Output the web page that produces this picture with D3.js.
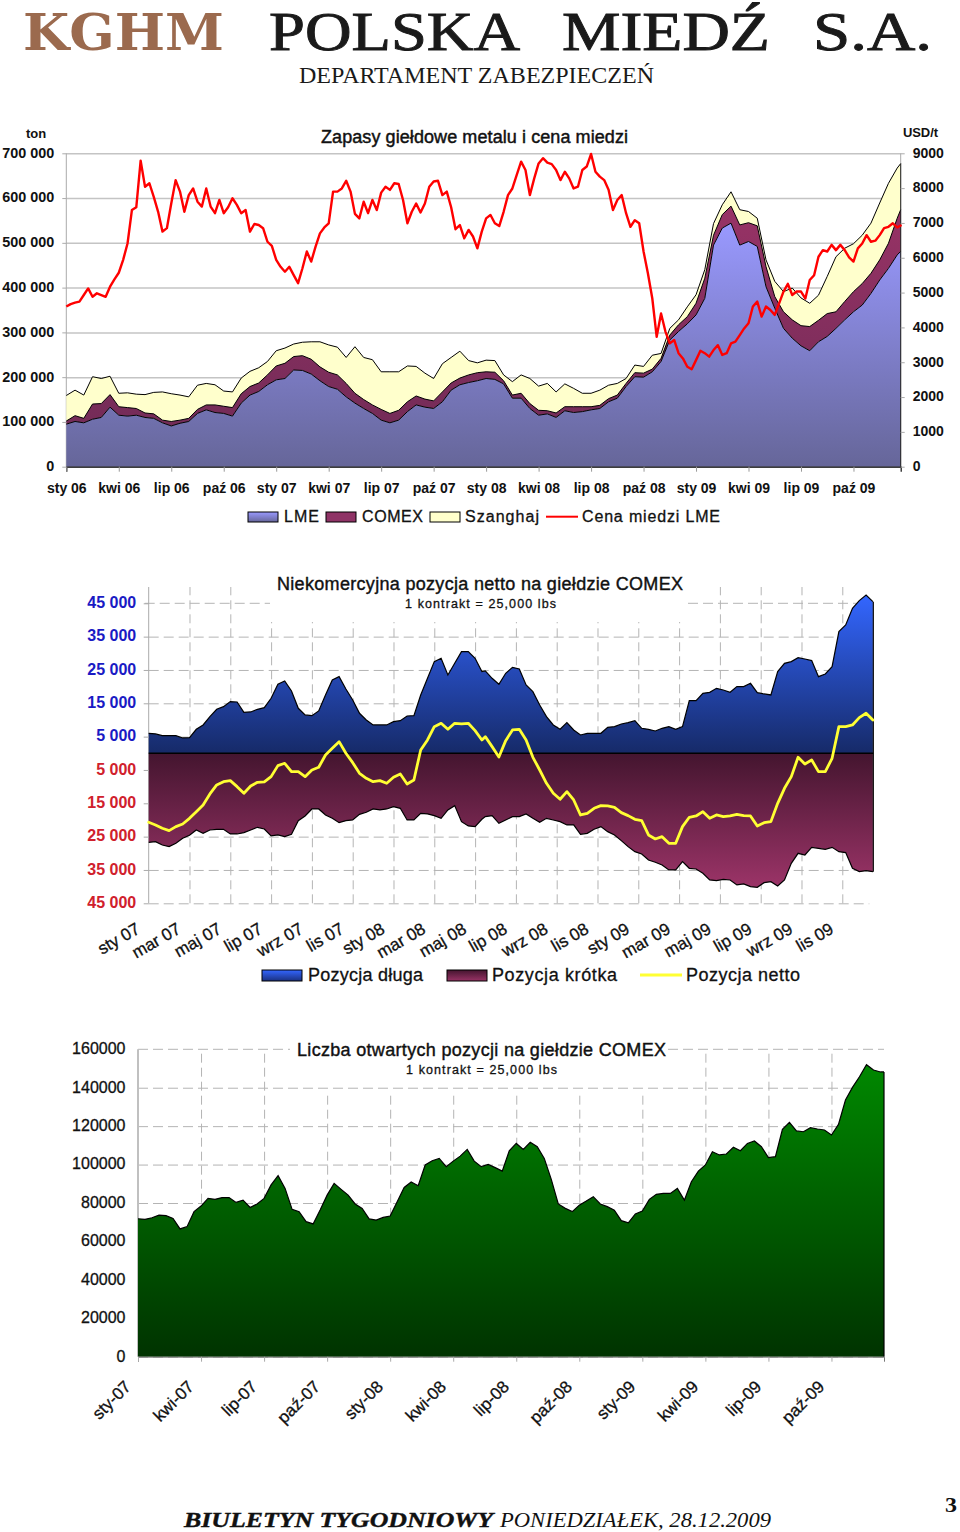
<!DOCTYPE html>
<html lang="pl"><head><meta charset="utf-8">
<script src="https://cdn.jsdelivr.net/npm/d3@7/dist/d3.min.js"></script>
<style>
html,body{margin:0;padding:0;background:#fff}
svg{display:block}
text{font-family:"Liberation Sans",Arial,sans-serif}
.serif{font-family:"Liberation Serif",serif}
.slab{font-family:"DejaVu Serif",serif}
</style></head><body><div id="c"></div>
<script>
// ---------- Chart 1: exchange stocks (thousand tons, half-month steps) and copper price (USD/t, quarter-month steps)
const stockLME=[95,101,98,106,110,133,115,113,115,110,108,98,91,97,101,119,127,121,119,113,142,160,168,183,194,197,216,215,207,192,179,173,156,142,130,119,104,98,104,123,138,133,130,145,171,183,188,192,197,195,185,153,153,130,115,118,110,125,121,123,127,130,145,153,179,201,200,212,235,283,302,319,339,376,495,533,544,495,503,492,402,354,309,287,270,259,279,291,309,328,346,361,387,417,443,473,481];
const stockCOMEX=[7,13,10,34,31,28,19,19,15,10,10,6,10,7,7,9,11,17,16,19,21,19,19,22,31,34,30,33,33,31,32,32,30,22,20,19,24,21,22,22,20,18,17,22,16,15,17,18,15,16,7,7,11,11,11,7,10,9,13,11,7,7,7,7,7,9,9,6,7,11,15,16,26,45,22,30,38,45,42,46,45,26,37,41,45,54,48,51,37,41,45,48,45,45,56,82,93];
const stockShanghai=[57,57,52,61,56,41,30,33,32,41,48,63,62,56,48,54,48,45,34,35,35,34,34,30,34,34,28,30,39,56,61,62,58,104,94,101,84,93,86,80,66,58,50,63,57,60,32,22,26,26,13,30,41,56,54,61,47,51,41,30,30,34,30,26,11,17,15,31,11,15,11,22,19,19,26,22,32,34,25,17,15,34,45,71,62,52,56,83,123,119,107,108,112,127,134,112,103];
const copperPrice=[4600,4670,4710,4740,4930,5120,4880,4980,4930,4880,5170,5380,5570,5940,6410,7370,7450,8790,8040,8140,7750,7320,6750,6850,7560,8230,7900,7320,7800,7990,7610,7470,7990,7470,7280,7660,7280,7450,7710,7520,7280,7370,6750,6970,6940,6850,6460,6340,5940,5740,5600,5740,5500,5270,5700,6180,5890,6320,6700,6870,6990,7900,7900,7990,8210,7900,7260,7130,7610,7280,7660,7370,7870,8040,7950,8140,8120,7660,6990,7320,7560,7300,7560,8040,8190,8210,7800,7900,7450,6820,6940,6560,6800,6610,6270,6750,7130,7230,6990,6910,7320,7800,7990,8380,8760,8520,7800,8280,8710,8860,8730,8690,8520,8230,8470,8280,7990,8040,8520,8620,8980,8470,8330,8230,7950,7370,7660,7800,7280,6890,7080,6990,6180,5550,4830,3730,4400,3880,3540,3640,3260,3110,2870,2800,3060,3330,3260,3160,3350,3490,3210,3260,3540,3590,3780,3970,4120,4600,4740,4310,4600,4500,4360,4690,5030,5250,4930,5030,5030,4830,5360,5500,6030,6220,6180,6370,6220,6370,6220,6010,5890,6270,6410,6650,6460,6490,6650,6850,6890,6990,6870,6940];
const stockTickValues=[0,100,200,300,400,500,600,700];
const stockTickLabels=["0","100 000","200 000","300 000","400 000","500 000","600 000","700 000"];
const priceTicks=[0,1000,2000,3000,4000,5000,6000,7000,8000,9000];
const stockMonthLabels=["sty 06","kwi 06","lip 06","paź 06","sty 07","kwi 07","lip 07","paź 07","sty 08","kwi 08","lip 08","paź 08","sty 09","kwi 09","lip 09","paź 09"];
const stockLegend=["LME","COMEX","Szanghaj","Cena miedzi LME"];

// ---------- Chart 2: non-commercial positions (contracts)
const positionLong=[6000,5800,5300,5300,5300,4600,4700,7200,8500,11000,13200,14000,15500,15400,12300,12400,13200,13700,16500,20700,21700,18700,13500,11500,11300,12700,17500,22000,23000,19300,16000,12000,10000,8500,8500,8500,9500,9800,11200,11300,17500,22500,27500,28500,23500,27000,30500,30500,28500,24500,
24700,22500,20700,24000,25800,25300,20500,18500,14500,11000,8500,7200,9200,7000,5500,6000,6000,6000,7800,8000,8800,9200,9800,7500,7200,6700,7500,8000,7200,8000,15800,15800,18000,18300,19500,19000,18300,20000,20000,21000,18200,17800,17500,24500,27000,27500,28700,28300,27800,23000,23800,26000,36500,38500,43500,45800,47500,45500];
const positionShort=[26700,26500,27500,28000,27000,25500,24600,23000,24000,23000,22800,22800,24200,24200,23800,23000,22200,22700,24800,24500,25000,24300,20200,18800,16700,16700,18500,19500,20800,20200,20000,18300,17700,16700,17000,16700,16000,16500,20000,20000,18000,18200,18700,19500,17000,15700,20500,21800,22000,19800,
19000,18700,21000,20000,19000,19000,18200,19500,20700,19500,20000,20500,21500,21500,24300,24000,22800,22000,23500,24500,26200,28000,29500,30200,32000,32700,33500,35000,35000,32500,34500,34700,36000,38000,38200,37800,38000,39500,39200,40000,40200,38800,38500,39800,38000,33000,30000,30500,28200,28500,28800,28200,29500,29800,34500,35500,35200,35500];
const positionNet=[-20700,-21500,-22500,-23200,-22000,-21200,-19500,-17500,-15500,-12200,-9500,-8500,-8200,-10000,-12000,-9800,-8700,-8600,-7000,-3700,-3000,-5500,-5500,-7000,-5000,-4200,-500,1500,3500,0,-2800,-6000,-7500,-8500,-8200,-9000,-7200,-6200,-9200,-8000,1000,4000,8000,9000,7200,9000,8800,9000,6800,4000,
5000,2000,-1100,3800,7000,7200,4000,-1200,-5000,-9000,-12000,-13800,-11500,-14000,-18500,-18000,-16500,-15700,-15800,-16200,-17800,-18700,-19800,-20200,-24500,-25700,-25000,-27000,-27000,-22000,-19200,-18800,-17500,-19500,-18500,-19000,-18800,-18300,-18700,-18800,-21800,-20800,-20500,-15000,-10500,-7000,-1200,-3200,-2000,-5500,-5500,-1500,8000,8000,8500,10700,12000,10000];
const positionTickValues=[45000,35000,25000,15000,5000,-5000,-15000,-25000,-35000,-45000];
const positionTickLabels=["45 000","35 000","25 000","15 000","5 000","5 000","15 000","25 000","35 000","45 000"];
const positionMonthLabels=["sty 07","mar 07","maj 07","lip 07","wrz 07","lis 07","sty 08","mar 08","maj 08","lip 08","wrz 08","lis 08","sty 09","mar 09","maj 09","lip 09","wrz 09","lis 09"];
const positionLegend=["Pozycja długa","Pozycja krótka","Pozycja netto"];

// ---------- Chart 3: open interest (contracts, third-of-month steps)
const openInterest=[71800,71500,72300,73700,73400,72000,66500,67700,75500,78400,82400,81900,82800,82800,80300,81500,77700,79500,82400,89400,94200,87600,76700,75500,70300,69100,76300,84100,90200,87100,84100,79500,77200,71700,71100,72500,73200,80700,88100,90900,89000,99800,102000,103200,98900,101800,104400,107900,101800,98900,100100,98400,96600,107200,111000,107900,111600,109300,103200,92300,79500,77200,75500,78900,81000,83300,79500,78100,76300,70800,69700,74300,75800,81900,84500,85000,85000,87600,81500,91100,96600,99800,106700,105000,105500,109000,107200,111000,112300,109300,103600,104100,118300,122000,117500,117100,119200,118500,118000,115400,120900,133600,140200,145700,152000,149200,148200,148200];
const openTicks=[0,20000,40000,60000,80000,100000,120000,140000,160000];
const openMonthLabels=["sty-07","kwi-07","lip-07","paź-07","sty-08","kwi-08","lip-08","paź-08","sty-09","kwi-09","lip-09","paź-09"];

const titles={
 stock:"Zapasy giełdowe metalu i cena miedzi",
 position:"Niekomercyjna pozycja netto na giełdzie COMEX",
 open:"Liczba otwartych pozycji na giełdzie COMEX",
 contract:"1 kontrakt = 25,000 lbs"
};

const svg=d3.select("#c").append("svg").attr("width",960).attr("height",1532).attr("viewBox","0 0 960 1532");
const defs=svg.append("defs");
function grad(id,y1,y2,c1,c2){
  const g=defs.append("linearGradient").attr("id",id).attr("gradientUnits","userSpaceOnUse").attr("x1",0).attr("x2",0).attr("y1",y1).attr("y2",y2);
  g.append("stop").attr("offset",0).attr("stop-color",c1);
  g.append("stop").attr("offset",1).attr("stop-color",c2);
  return `url(#${id})`;
}
function txt(x,y,s,o={}){
  const t=svg.append("text").attr("x",x).attr("y",y).text(s)
    .attr("font-size",o.size||14).attr("font-weight",o.weight||"normal").attr("text-anchor",o.anchor||"start").style("fill",o.fill||"#111");
  if(o.cls)t.attr("class",o.cls);
  if(o.style)t.attr("font-style",o.style);
  if(o.len)t.attr("textLength",o.len).attr("lengthAdjust",o.adjust||"spacing");
  if(o.stroke)t.style("stroke",o.fill||"#111").style("stroke-width",o.stroke);
  return t;
}
function swatch(x,y,w,h,fill){
  svg.append("rect").attr("x",x).attr("y",y).attr("width",w).attr("height",h).attr("fill",fill).attr("stroke","#000").attr("stroke-width",1);
}
function tickText(sel,size,fill,weight,stroke){
  sel.attr("font-size",size).attr("font-weight",weight).attr("font-family","Liberation Sans").style("fill",fill);
  if(stroke)sel.style("stroke",fill).style("stroke-width",stroke);
  return sel;
}

// ---------- page header
txt(23,50,"KGHM",{cls:"slab",size:50,weight:"bold",fill:"#9b6a4e",len:201,adjust:"spacingAndGlyphs"});
txt(269,50,"POLSKA",{cls:"serif",size:54,fill:"#1a1a1a",len:251,adjust:"spacingAndGlyphs",stroke:.9});
txt(562,50,"MIEDŹ",{cls:"serif",size:54,fill:"#1a1a1a",len:208,adjust:"spacingAndGlyphs",stroke:.9});
txt(813,50,"S.A.",{cls:"serif",size:54,fill:"#1a1a1a",len:119,adjust:"spacingAndGlyphs",stroke:.9});
txt(299,83,"DEPARTAMENT ZABEZPIECZEŃ",{cls:"serif",size:23,fill:"#1a1a1a",len:355,adjust:"spacingAndGlyphs"});

// ---------- Chart 1
(function(){
  const L=66.3,R=900.7,T=153.3,B=466.7;
  const x=d3.scaleLinear().domain([0,47.7]).range([L,R]);
  const y=d3.scaleLinear().domain([0,700]).range([B,T]);
  const yP=d3.scaleLinear().domain([0,9000]).range([B,T]);
  const rows=stockLME.map((v,i)=>({m:Math.min(i/2,47.7),LME:v,COMEX:stockCOMEX[i],Shanghai:stockShanghai[i]}));
  const series=d3.stack().keys(["LME","COMEX","Shanghai"])(rows);
  const g=svg.append("g");
  g.append("g").attr("transform",`translate(${L},0)`).call(d3.axisLeft(y).tickValues(stockTickValues).tickSize(-(R-L)).tickFormat(""))
    .call(s=>s.select(".domain").remove()).selectAll("line").attr("stroke","#c4c4c4").attr("stroke-width",1.5);
  g.append("line").attr("x1",L).attr("x2",L).attr("y1",T).attr("y2",B).attr("stroke","#aaa").attr("stroke-width",1);
  g.append("line").attr("x1",R).attr("x2",R).attr("y1",T).attr("y2",B).attr("stroke","#aaa").attr("stroke-width",1);
  const area=d3.area().x(d=>x(d.data.m)).y0(d=>y(d[0])).y1(d=>y(d[1]));
  const fills=[grad("gLME",y(544),B,"#9999ff","#666699"),grad("gCOMEX",y(600),B,"#993366","#6d2a55"),"#ffffcc"];
  series.slice().reverse().forEach(s=>{
    g.append("path").datum(s).attr("d",area).attr("fill",fills[s.index]);
    g.append("path").datum(s).attr("d",d3.line().x(d=>x(d.data.m)).y(d=>y(d[1]))).attr("fill","none").attr("stroke","#000").attr("stroke-width",1);
  });
  const last=rows[rows.length-1];
  g.append("line").attr("x1",R).attr("x2",R).attr("y1",y(last.LME+last.COMEX+last.Shanghai)).attr("y2",B).attr("stroke","#222").attr("stroke-width",1);
  g.append("path").datum(copperPrice).attr("d",d3.line().x((d,i)=>x(i/4)).y(d=>yP(d))).attr("fill","none").attr("stroke","#ff0000").attr("stroke-width",2.4).attr("stroke-linejoin","round");
  const bx=g.append("g").attr("transform",`translate(0,${B})`).call(d3.axisBottom(x).tickValues(d3.range(0,46,3)).tickSize(5).tickPadding(11).tickFormat((d,i)=>stockMonthLabels[i]));
  bx.select(".domain").attr("stroke","#111").attr("stroke-width",1.2);
  bx.selectAll("line").attr("stroke","#999");
  tickText(bx.selectAll("text"),14,"#111","bold");
  const ly=g.append("g").attr("transform",`translate(${L},0)`).call(d3.axisLeft(y).tickValues(stockTickValues).tickSize(4).tickFormat((d,i)=>stockTickLabels[i]));
  ly.select(".domain").remove(); ly.selectAll("line").attr("stroke","#aaa");
  tickText(ly.selectAll("text").attr("x",-12).attr("dy",".27em"),14.4,"#111","bold");
  const ry=g.append("g").attr("transform",`translate(${R},0)`).call(d3.axisRight(yP).tickValues(priceTicks).tickSize(4).tickFormat(d=>d));
  ry.select(".domain").remove(); ry.selectAll("line").attr("stroke","#aaa");
  tickText(ry.selectAll("text").attr("x",12).attr("dy",".27em"),14,"#111","bold");
  txt(26,138,"ton",{size:13,weight:"bold"});
  txt(903,137,"USD/t",{size:13,weight:"bold",len:35});
  txt(321,143,titles.stock,{size:18,len:307,stroke:.45});
  const lgY=512;
  swatch(248,lgY,30,10,grad("lLME",lgY,lgY+10,"#9999ff","#666699"));
  txt(284,522,stockLegend[0],{size:16,len:35,stroke:.3});
  swatch(326,lgY,30,10,"#8f3366");
  txt(362,522,stockLegend[1],{size:16,len:61,stroke:.3});
  swatch(430,lgY,30,10,"#ffffcc");
  txt(465,522,stockLegend[2],{size:16,len:74,stroke:.3});
  svg.append("line").attr("x1",546).attr("x2",578).attr("y1",516.7).attr("y2",516.7).attr("stroke","#ff0000").attr("stroke-width",2);
  txt(582,522,stockLegend[3],{size:16,len:138,stroke:.3});
})();

// ---------- Chart 2
(function(){
  const L=148.7,R=873.3,Z=753.3,T=603.3,B=903.3,top=587;
  const months=d3.range(50).map(j=>j/3).concat(d3.range(58).map(i=>16.5+i/3));
  const x=d3.scaleLinear().domain([0,35.52]).range([L,R]);
  const y=d3.scaleLinear().domain([-45000,45000]).range([B,T]);
  const g=svg.append("g");
  const tickM=d3.range(0,35,2);
  g.append("g").attr("transform",`translate(0,${B})`).call(d3.axisBottom(x).tickValues(tickM.slice(1)).tickSize(-(B-top)).tickFormat(""))
   .call(s=>s.select(".domain").remove()).selectAll("line").attr("stroke","#b4b4b4").attr("stroke-dasharray","9 5");
  g.append("rect").attr("x",270).attr("y",580).attr("width",418).attr("height",42).attr("fill","#fff");
  const hg=g.append("g").attr("transform",`translate(${L},0)`).call(d3.axisLeft(y).tickValues(positionTickValues).tickSize(-(R-L-4)).tickFormat(""));
  hg.select(".domain").remove();
  hg.selectAll("line").attr("stroke","#b4b4b4").attr("stroke-dasharray","10 5").filter(d=>d===45000).attr("stroke","none");
  [[L-4,270],[688,R-4]].forEach(p=>g.append("line").attr("x1",p[0]).attr("x2",p[1]).attr("y1",y(45000)).attr("y2",y(45000)).attr("stroke","#b4b4b4").attr("stroke-dasharray","10 5"));
  g.append("line").attr("x1",L).attr("x2",L).attr("y1",top).attr("y2",B).attr("stroke","#aaa");
  const fillLong=grad("gLong",y(47500),Z,"#3366ff","#162a68");
  const fillShort=grad("gShort",Z,y(-39000),"#44152f","#993366");
  const longA=d3.area().x((d,i)=>x(months[i])).y0(Z).y1(d=>y(d));
  const shortA=d3.area().x((d,i)=>x(months[i])).y0(Z).y1(d=>y(-d));
  const edge=d3.line().x((d,i)=>x(months[i])).y(d=>y(d));
  g.append("path").datum(positionLong).attr("d",longA).attr("fill",fillLong);
  g.append("path").datum(positionLong).attr("d",edge).attr("fill","none").attr("stroke","#000").attr("stroke-width",1.2);
  g.append("path").datum(positionShort).attr("d",shortA).attr("fill",fillShort);
  g.append("path").datum(positionShort).attr("d",d3.line().x((d,i)=>x(months[i])).y(d=>y(-d))).attr("fill","none").attr("stroke","#000").attr("stroke-width",1.2);
  g.append("line").attr("x1",R).attr("x2",R).attr("y1",y(positionLong[107])).attr("y2",y(-positionShort[107])).attr("stroke","#000").attr("stroke-width",1.2);
  g.append("line").attr("x1",L).attr("x2",R).attr("y1",Z).attr("y2",Z).attr("stroke","#000").attr("stroke-width",1.5);
  g.append("path").datum(positionNet).attr("d",edge).attr("fill","none").attr("stroke","#ffff33").attr("stroke-width",2.8).attr("stroke-linejoin","round").attr("stroke-linecap","round");
  const ly=g.append("g").attr("transform",`translate(${L},0)`).call(d3.axisLeft(y).tickValues(positionTickValues).tickSize(5).tickFormat((d,i)=>positionTickLabels[i]));
  ly.select(".domain").remove(); ly.selectAll("line").attr("stroke","#aaa");
  const lyT=ly.selectAll("text").attr("x",-12.5).attr("dy",".27em");
  tickText(lyT,16,"#111","bold");
  lyT.style("fill",d=>d>0?"#1a1ac4":"#d0202c");
  const bx=g.append("g").attr("transform",`translate(0,${B})`).call(d3.axisBottom(x).tickValues(tickM).tickSize(0).tickFormat((d,i)=>positionMonthLabels[i]));
  bx.select(".domain").remove();
  tickText(bx.selectAll("text").attr("text-anchor","end").attr("x",0).attr("y",0).attr("dy",0).attr("transform","translate(-8,29) rotate(-30)"),17,"#111","normal",.3);
  txt(277,590,titles.position,{size:18,len:406,stroke:.4});
  txt(405,608,titles.contract,{size:12.5,len:151,stroke:.3});
  swatch(262,970,40,11,grad("lLong",970,981,"#3366ff","#1a3080"));
  txt(308,981,positionLegend[0],{size:18,len:115,stroke:.3});
  swatch(447,970,40,11,grad("lShort",970,981,"#44152f","#993366"));
  txt(492,981,positionLegend[1],{size:18,len:125,stroke:.3});
  svg.append("line").attr("x1",640).attr("x2",682).attr("y1",975).attr("y2",975).attr("stroke","#ffff33").attr("stroke-width",2.8);
  txt(686,981,positionLegend[2],{size:18,len:114,stroke:.3});
})();

// ---------- Chart 3
(function(){
  const L=138,R=884,T=1049.3,B=1356.7;
  const x=d3.scaleLinear().domain([0,35.5]).range([L,R]);
  const y=d3.scaleLinear().domain([0,160000]).range([B,T]);
  const months=openInterest.map((d,i)=>Math.min(i/3,35.5));
  const g=svg.append("g");
  const tickM=d3.range(0,34,3);
  g.append("g").attr("transform",`translate(0,${B})`).call(d3.axisBottom(x).tickValues(tickM.slice(1)).tickSize(-(B-T)).tickFormat(""))
   .call(s=>s.select(".domain").remove()).selectAll("line").attr("stroke","#b4b4b4").attr("stroke-dasharray","9 5");
  g.append("rect").attr("x",290).attr("y",1040).attr("width",378).attr("height",52).attr("fill","#fff");
  const hg=g.append("g").attr("transform",`translate(${L},0)`).call(d3.axisLeft(y).tickValues(openTicks).tickSize(-(R-L)).tickFormat(""));
  hg.select(".domain").remove();
  hg.selectAll("line").attr("stroke","#b4b4b4").attr("stroke-dasharray","10 5").filter(d=>d===160000).attr("stroke","none");
  [[L,290],[668,R]].forEach(p=>g.append("line").attr("x1",p[0]).attr("x2",p[1]).attr("y1",T).attr("y2",T).attr("stroke","#b4b4b4").attr("stroke-dasharray","10 5"));
  g.append("line").attr("x1",L).attr("x2",L).attr("y1",T).attr("y2",B).attr("stroke","#c0c0c0").attr("stroke-width",2);
  g.append("path").datum(openInterest).attr("d",d3.area().x((d,i)=>x(months[i])).y0(B).y1(d=>y(d))).attr("fill",grad("gOpen",y(152000),B,"#008800","#003300"));
  g.append("path").datum(openInterest).attr("d",d3.line().x((d,i)=>x(months[i])).y(d=>y(d))).attr("fill","none").attr("stroke","#000").attr("stroke-width",1.2);
  g.append("line").attr("x1",R).attr("x2",R).attr("y1",y(openInterest[openInterest.length-1])).attr("y2",B).attr("stroke","#000").attr("stroke-width",1.2);
  const ly=g.append("g").attr("transform",`translate(${L},0)`).call(d3.axisLeft(y).tickValues(openTicks).tickSize(0).tickFormat(d=>d));
  ly.select(".domain").remove();
  tickText(ly.selectAll("text").attr("x",-12.5).attr("dy",".27em"),16,"#111","normal",.3);
  const bx=g.append("g").attr("transform",`translate(0,${B})`).call(d3.axisBottom(x).tickValues(tickM).tickSize(5).tickFormat((d,i)=>openMonthLabels[i]));
  bx.select(".domain").attr("stroke","#777").attr("stroke-width",1);
  bx.selectAll("line").attr("stroke","#aaa");
  tickText(bx.selectAll("text").attr("text-anchor","end").attr("x",0).attr("y",0).attr("dy",0).attr("transform","translate(-6.5,31) rotate(-45)"),17,"#111","normal",.3);
  txt(297,1056,titles.open,{size:18,len:369,stroke:.4});
  txt(406,1074,titles.contract,{size:12.5,len:151,stroke:.3});
})();

// ---------- footer
txt(184,1527,"BIULETYN TYGODNIOWY",{cls:"serif",size:21,weight:"bold",style:"italic",fill:"#111",len:309,adjust:"spacingAndGlyphs",stroke:.4});
txt(500,1527,"PONIEDZIAŁEK, 28.12.2009",{cls:"serif",size:21,style:"italic",fill:"#111",len:271,adjust:"spacingAndGlyphs"});
txt(945,1512,"3",{cls:"serif",size:21,weight:"bold",fill:"#111",len:12,adjust:"spacingAndGlyphs"});
</script></body></html>
